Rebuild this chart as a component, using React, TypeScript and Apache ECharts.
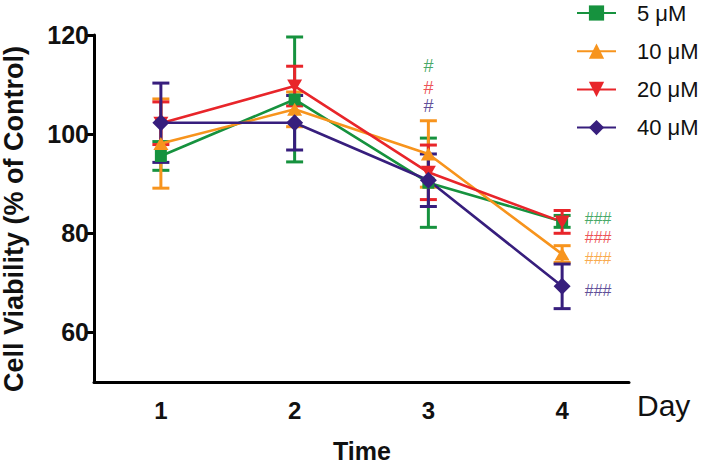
import React, { useEffect, useRef } from 'react';
import * as echarts from 'echarts';

const days = ['1', '2', '3', '4'];
const seriesNames = ['5 μM', '10 μM', '20 μM', '40 μM'];
const mean5 = [95.6, 107.0, 90.2, 82.4];
const sem5 = [2.9, 12.6, 9.0, 1.2];
const mean10 = [98.1, 105.0, 96.0, 75.8];
const sem10 = [9.0, 3.5, 6.7, 1.7];
const mean20 = [102.2, 109.7, 92.3, 82.3];
const sem20 = [4.3, 4.0, 5.5, 2.3];
const mean40 = [102.3, 102.3, 90.7, 69.3];
const sem40 = [8.0, 5.5, 5.3, 4.5];
const yTicks = [60, 80, 100, 120];
// significance marks: [seriesIndex, yValue]
const sigDay3 = [[0, 113.7], [2, 109.4], [3, 105.7]];
const sigDay4 = [[0, 82.9], [2, 79.1], [1, 74.9], [3, 68.5]];

const colors = ['#16923e', '#f7941d', '#e8252a', '#371e7d'];
const FONT = '"Liberation Sans", Arial, Helvetica, sans-serif';

export default function App() {
  const ref = useRef<HTMLDivElement>(null);
  useEffect(() => {
    if (!ref.current) return;
    const chart = echarts.init(ref.current, null, { renderer: 'svg' });
    const means = [mean5, mean10, mean20, mean40];
    const sems = [sem5, sem10, sem20, sem40];
    const symbols: any[] = ['rect', 'triangle', 'path://M0,0L10,0L5,9Z', 'diamond'];
    const symbolSizes: any[] = [[12, 12], [15, 13], [15, 13], [17, 17]];

    const series: any[] = [];
    means.forEach((m, s) => {
      const color = colors[s];
      series.push({
        type: 'custom',
        name: seriesNames[s] + ' err',
        data: days.map((d, i) => [i, m[i] - sems[s][i], m[i] + sems[s][i]]),
        encode: { x: 0, y: [1, 2] },
        silent: true,
        renderItem: (params: any, api: any) => {
          const x = api.value(0);
          const top = api.coord([x, api.value(2)]);
          const bot = api.coord([x, api.value(1)]);
          const hw = 8.5;
          const style = { stroke: color, lineWidth: 3, fill: 'none' };
          return {
            type: 'group',
            children: [
              { type: 'line', shape: { x1: top[0], y1: top[1], x2: bot[0], y2: bot[1] }, style },
              { type: 'line', shape: { x1: top[0] - hw, y1: top[1], x2: top[0] + hw, y2: top[1] }, style },
              { type: 'line', shape: { x1: bot[0] - hw, y1: bot[1], x2: bot[0] + hw, y2: bot[1] }, style },
            ],
          };
        },
      });
      series.push({
        type: 'line',
        name: seriesNames[s],
        data: m,
        symbol: symbols[s],
        symbolSize: symbolSizes[s],
        showSymbol: true,
        lineStyle: { color, width: 2.6 },
        itemStyle: { color, borderWidth: 0 },
      });
    });

    series.push({
      type: 'scatter',
      name: 'sig3',
      symbolSize: 0,
      silent: true,
      data: sigDay3.map(([s, v]) => ({
        value: [2, v],
        label: { show: true, formatter: '#', color: colors[s as number] },
      })),
      label: { show: true, position: 'inside', fontSize: 18, lineHeight: 13, fontFamily: FONT },
    });
    series.push({
      type: 'scatter',
      name: 'sig4',
      symbolSize: 0,
      silent: true,
      data: sigDay4.map(([s, v]) => ({
        value: [3, v],
        label: { show: true, formatter: '###', color: colors[s as number] },
      })),
      label: { show: true, position: 'inside', offset: [36, 0], fontSize: 16, lineHeight: 13, fontFamily: FONT },
    });

    chart.setOption({
      animation: false,
      backgroundColor: '#ffffff',
      grid: { left: 94, right: 75, top: 35, bottom: 83, containLabel: false },
      legend: {
        data: seriesNames,
        orient: 'vertical',
        left: 576,
        top: 2,
        padding: 0,
        itemWidth: 39,
        itemHeight: 19,
        itemGap: 16.2,
        textStyle: { fontSize: 22, lineHeight: 19, fontFamily: FONT, color: '#111', padding: [0, 0, 0, 16] },
      },
      xAxis: {
        type: 'category',
        data: days,
        boundaryGap: true,
        axisLine: { lineStyle: { color: '#000', width: 3 } },
        axisTick: { alignWithLabel: true, length: 9, lineStyle: { color: '#000', width: 3 } },
        axisLabel: { fontSize: 24, fontWeight: 'bold', fontFamily: FONT, color: '#111', margin: 16 },
        splitLine: { show: false },
      },
      yAxis: {
        type: 'value',
        min: 50,
        max: 120,
        axisLine: { show: true, lineStyle: { color: '#000', width: 3 } },
        axisTick: { show: true, length: 8, customValues: yTicks, lineStyle: { color: '#000', width: 3 } },
        axisLabel: { fontSize: 25, fontWeight: 'bold', fontFamily: FONT, color: '#111', margin: 5, customValues: yTicks },
        splitLine: { show: false },
      },
      graphic: [
        {
          type: 'text',
          x: 14,
          y: 219,
          rotation: Math.PI / 2,
          style: {
            text: 'Cell Viability (% of Control)',
            fontSize: 27,
            fontWeight: 'bold',
            fontFamily: FONT,
            fill: '#111',
            align: 'center',
            verticalAlign: 'middle',
          },
        },
        {
          type: 'text',
          x: 362,
          y: 451,
          style: {
            text: 'Time',
            fontSize: 25,
            fontWeight: 'bold',
            fontFamily: FONT,
            fill: '#111',
            align: 'center',
            verticalAlign: 'middle',
          },
        },
        {
          type: 'text',
          x: 637,
          y: 405,
          style: {
            text: 'Day',
            fontSize: 30,
            fontFamily: FONT,
            fill: '#111',
            align: 'left',
            verticalAlign: 'middle',
          },
        },
      ],
      series,
    });
    return () => chart.dispose();
  }, []);
  return <div ref={ref} style={{ position: 'absolute', left: 0, top: 0, width: 704, height: 465 }} />;
}
